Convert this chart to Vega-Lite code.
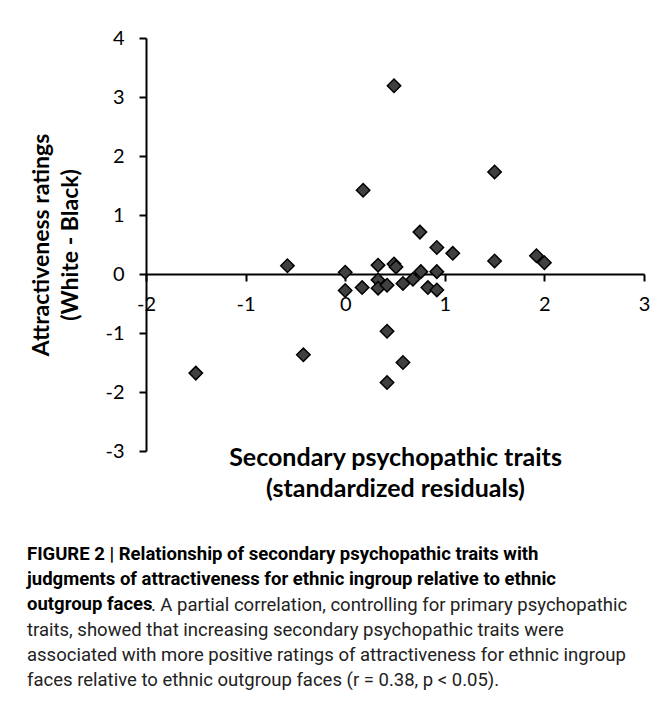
{
  "$schema": "https://vega.github.io/schema/vega-lite/v6.json",
  "width": 498,
  "height": 413,
  "autosize": {"type": "none"},
  "padding": {"left": 146, "top": 38, "right": 13, "bottom": 250},
  "background": "white",
  "config": {"view": {"stroke": null}},
  "data": {
    "values": [
      {"secondary": -1.50, "attractiveness": -1.68},
      {"secondary": -0.58, "attractiveness": 0.14},
      {"secondary": -0.42, "attractiveness": -1.37},
      {"secondary": 0.00, "attractiveness": 0.03},
      {"secondary": 0.00, "attractiveness": -0.28},
      {"secondary": 0.17, "attractiveness": -0.23},
      {"secondary": 0.18, "attractiveness": 1.42},
      {"secondary": 0.33, "attractiveness": 0.15},
      {"secondary": 0.33, "attractiveness": -0.10},
      {"secondary": 0.33, "attractiveness": -0.24},
      {"secondary": 0.42, "attractiveness": -0.19},
      {"secondary": 0.42, "attractiveness": -0.97},
      {"secondary": 0.42, "attractiveness": -1.84},
      {"secondary": 0.49, "attractiveness": 3.19},
      {"secondary": 0.49, "attractiveness": 0.17},
      {"secondary": 0.51, "attractiveness": 0.12},
      {"secondary": 0.58, "attractiveness": -0.16},
      {"secondary": 0.58, "attractiveness": -1.50},
      {"secondary": 0.68, "attractiveness": -0.09},
      {"secondary": 0.75, "attractiveness": 0.71},
      {"secondary": 0.76, "attractiveness": 0.04},
      {"secondary": 0.83, "attractiveness": -0.23},
      {"secondary": 0.92, "attractiveness": 0.45},
      {"secondary": 0.92, "attractiveness": 0.04},
      {"secondary": 0.92, "attractiveness": -0.27},
      {"secondary": 1.08, "attractiveness": 0.35},
      {"secondary": 1.50, "attractiveness": 1.73},
      {"secondary": 1.50, "attractiveness": 0.22},
      {"secondary": 1.92, "attractiveness": 0.31},
      {"secondary": 2.00, "attractiveness": 0.19}
    ]
  },
  "mark": {
    "type": "point",
    "shape": "diamond",
    "filled": true,
    "size": 180,
    "fill": "#404040",
    "stroke": "#000000",
    "strokeWidth": 1.5,
    "opacity": 1
  },
  "encoding": {
    "x": {
      "field": "secondary",
      "type": "quantitative",
      "scale": {"domain": [-2, 3], "nice": false, "zero": false},
      "axis": {
        "values": [-2, -1, 0, 1, 2, 3],
        "labelExpr": "toString(datum.value)",
        "offset": {"expr": "scale('y', 0) - height"},
        "grid": false,
        "domainColor": "#000000",
        "domainWidth": 2,
        "tickColor": "#000000",
        "tickWidth": 2,
        "tickSize": 7,
        "labelFont": "Lato",
        "labelFontSize": 20,
        "labelColor": "#000000",
        "labelPadding": 13,
        "labelFlush": false,
        "labelOverlap": false,
        "title": ["Secondary psychopathic traits", "(standardized residuals)"],
        "titleFont": "Lato",
        "titleFontSize": 25,
        "titleFontWeight": "bold",
        "titleColor": "#000000",
        "titleBaseline": "top",
        "titleLineHeight": 31,
        "titleY": {"expr": "height - scale('y', 0) - 6"}
      }
    },
    "y": {
      "field": "attractiveness",
      "type": "quantitative",
      "scale": {"domain": [-3, 4], "nice": false, "zero": false},
      "axis": {
        "values": [-3, -2, -1, 0, 1, 2, 3, 4],
        "labelExpr": "toString(datum.value)",
        "grid": false,
        "domainColor": "#000000",
        "domainWidth": 2,
        "tickColor": "#000000",
        "tickWidth": 2,
        "tickSize": 7,
        "labelFont": "Lato",
        "labelFontSize": 20,
        "labelColor": "#000000",
        "labelPadding": 15,
        "labelFlush": false,
        "labelOverlap": false,
        "title": ["Attractiveness ratings", "(White - Black)"],
        "titleFont": "Lato",
        "titleFontSize": 23,
        "titleFontWeight": "bold",
        "titleColor": "#000000",
        "titleLineHeight": 29,
        "titlePadding": 22
      }
    }
  },
  "title": {
    "text": ["FIGURE 2 | Relationship of secondary psychopathic traits with", "judgments of attractiveness for ethnic ingroup relative to ethnic", "outgroup faces"],
    "subtitle": ["\u200b\u00a0\u00a0\u00a0\u00a0\u00a0\u00a0\u00a0\u00a0\u00a0\u00a0\u00a0\u00a0\u00a0\u00a0\u00a0\u00a0\u00a0\u00a0\u00a0\u00a0\u00a0\u00a0\u00a0\u00a0\u00a0\u00a0\u00a0. A partial correlation, controlling for primary psychopathic", "traits, showed that increasing secondary psychopathic traits were", "associated with more positive ratings of attractiveness for ethnic ingroup", "faces relative to ethnic outgroup faces (r = 0.38, p < 0.05)."],
    "orient": "bottom",
    "anchor": "start",
    "frame": "group",
    "dx": -119,
    "offset": 44,
    "font": "Roboto",
    "fontSize": 18.5,
    "fontWeight": "bold",
    "color": "#000000",
    "lineHeight": 25,
    "subtitleFont": "Roboto",
    "subtitleFontSize": 18.5,
    "subtitleFontWeight": "normal",
    "subtitleColor": "#222222",
    "subtitleLineHeight": 25,
    "subtitlePadding": -18
  }
}
